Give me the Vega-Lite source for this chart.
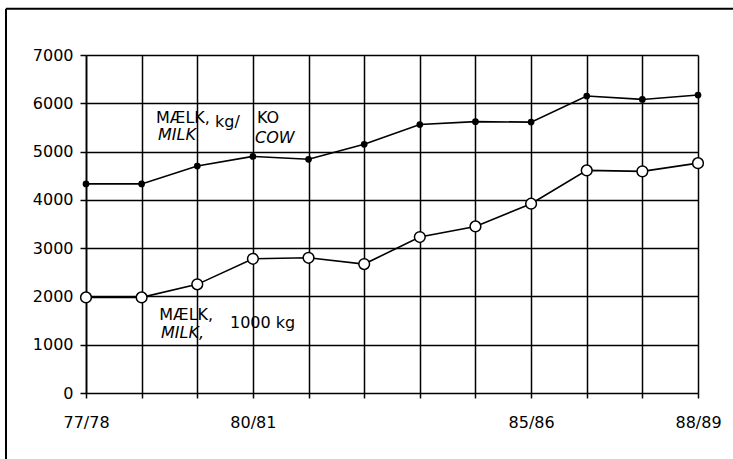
{
  "$schema": "https://vega.github.io/schema/vega-lite/v6.json",
  "width": 612,
  "height": 338,
  "autosize": "none",
  "padding": {"left": 86, "top": 55, "right": 35, "bottom": 66},
  "background": "white",
  "config": {
    "view": {"stroke": null},
    "font": "DejaVu Sans",
    "text": {"font": "DejaVu Sans", "fontSize": 16, "color": "black", "align": "left", "baseline": "alphabetic"}
  },
  "datasets": {
    "milk": [
      {"season": "77/78", "idx": 0, "series": "kg/ko", "value": 4330},
      {"season": "78/79", "idx": 1, "series": "kg/ko", "value": 4330},
      {"season": "79/80", "idx": 2, "series": "kg/ko", "value": 4700},
      {"season": "80/81", "idx": 3, "series": "kg/ko", "value": 4900},
      {"season": "81/82", "idx": 4, "series": "kg/ko", "value": 4840},
      {"season": "82/83", "idx": 5, "series": "kg/ko", "value": 5150},
      {"season": "83/84", "idx": 6, "series": "kg/ko", "value": 5560},
      {"season": "84/85", "idx": 7, "series": "kg/ko", "value": 5620},
      {"season": "85/86", "idx": 8, "series": "kg/ko", "value": 5610},
      {"season": "86/87", "idx": 9, "series": "kg/ko", "value": 6150},
      {"season": "87/88", "idx": 10, "series": "kg/ko", "value": 6080},
      {"season": "88/89", "idx": 11, "series": "kg/ko", "value": 6170},
      {"season": "77/78", "idx": 0, "series": "1000 kg", "value": 1980},
      {"season": "78/79", "idx": 1, "series": "1000 kg", "value": 1980},
      {"season": "79/80", "idx": 2, "series": "1000 kg", "value": 2250},
      {"season": "80/81", "idx": 3, "series": "1000 kg", "value": 2780},
      {"season": "81/82", "idx": 4, "series": "1000 kg", "value": 2800},
      {"season": "82/83", "idx": 5, "series": "1000 kg", "value": 2670},
      {"season": "83/84", "idx": 6, "series": "1000 kg", "value": 3230},
      {"season": "84/85", "idx": 7, "series": "1000 kg", "value": 3450},
      {"season": "85/86", "idx": 8, "series": "1000 kg", "value": 3920},
      {"season": "86/87", "idx": 9, "series": "1000 kg", "value": 4610},
      {"season": "87/88", "idx": 10, "series": "1000 kg", "value": 4590},
      {"season": "88/89", "idx": 11, "series": "1000 kg", "value": 4760}
    ],
    "one": [{}]
  },
  "layer": [
    {
      "data": {"name": "milk"},
      "mark": {"type": "line", "color": "black", "strokeWidth": 1.6},
      "encoding": {
        "x": {
          "field": "idx", "type": "quantitative",
          "scale": {"domain": [0, 11], "nice": false, "zero": false},
          "axis": {
            "title": null,
            "values": [0,1,2,3,4,5,6,7,8,9,10,11],
            "labelExpr": "['77/78','','','80/81','','','','','85/86','','','88/89'][datum.value]",
            "grid": true, "gridColor": "black", "gridWidth": 1.5, "gridOpacity": 1,
            "domain": false,
            "ticks": true, "tickColor": "black", "tickSize": 5, "tickWidth": 1.5,
            "labelFont": "DejaVu Sans", "labelFontSize": 16, "labelColor": "black",
            "labelPadding": 16, "labelFlush": false, "labelOverlap": false
          }
        },
        "y": {
          "field": "value", "type": "quantitative",
          "scale": {"domain": [0, 7000], "nice": false},
          "axis": {
            "title": null, "format": "d",
            "values": [0,1000,2000,3000,4000,5000,6000,7000],
            "grid": true, "gridColor": "black", "gridWidth": 1.5, "gridOpacity": 1,
            "domain": true, "domainColor": "black", "domainWidth": 1.6,
            "ticks": true, "tickColor": "black", "tickSize": 6, "tickWidth": 1.5,
            "labelFont": "DejaVu Sans", "labelFontSize": 16, "labelColor": "black",
            "labelPadding": 7
          }
        },
        "detail": {"field": "series"}
      }
    },
    {
      "data": {"name": "milk"},
      "transform": [{"filter": "datum.series == 'kg/ko'"}],
      "mark": {"type": "point", "shape": "circle", "filled": true, "color": "black", "size": 45, "opacity": 1},
      "encoding": {"x": {"field": "idx", "type": "quantitative"}, "y": {"field": "value", "type": "quantitative"}}
    },
    {
      "data": {"name": "milk"},
      "transform": [{"filter": "datum.series == '1000 kg'"}],
      "mark": {"type": "point", "shape": "circle", "filled": true, "fill": "white", "stroke": "black", "strokeWidth": 1.5, "size": 115, "opacity": 1},
      "encoding": {"x": {"field": "idx", "type": "quantitative"}, "y": {"field": "value", "type": "quantitative"}}
    },
    {
      "data": {"name": "one"},
      "mark": {"type": "rule", "color": "black", "strokeWidth": 2, "clip": false},
      "encoding": {"x": {"datum": -1.438}, "x2": {"datum": 11.7}, "y": {"datum": 7957}}
    },
    {
      "data": {"name": "one"},
      "mark": {"type": "rule", "color": "black", "strokeWidth": 2, "clip": false},
      "encoding": {"x": {"datum": -1.438}, "y": {"datum": 7957}, "y2": {"datum": -1400}}
    },
    {"data": {"name": "one"}, "mark": {"type": "text"}, "encoding": {"x": {"datum": 1.258}, "y": {"datum": 5590}, "text": {"value": "MÆLK,"}}},
    {"data": {"name": "one"}, "mark": {"type": "text", "fontStyle": "italic"}, "encoding": {"x": {"datum": 1.294}, "y": {"datum": 5244}, "text": {"value": "MILK"}}},
    {"data": {"name": "one"}, "mark": {"type": "text"}, "encoding": {"x": {"datum": 2.318}, "y": {"datum": 5513}, "text": {"value": "kg/"}}},
    {"data": {"name": "one"}, "mark": {"type": "text"}, "encoding": {"x": {"datum": 3.073}, "y": {"datum": 5590}, "text": {"value": "KO"}}},
    {"data": {"name": "one"}, "mark": {"type": "text", "fontStyle": "italic"}, "encoding": {"x": {"datum": 3.037}, "y": {"datum": 5176}, "text": {"value": "COW"}}},
    {"data": {"name": "one"}, "mark": {"type": "text"}, "encoding": {"x": {"datum": 1.317}, "y": {"datum": 1503}, "text": {"value": "MÆLK,"}}},
    {"data": {"name": "one"}, "mark": {"type": "text", "fontStyle": "italic"}, "encoding": {"x": {"datum": 1.348}, "y": {"datum": 1139}, "text": {"value": "MILK,"}}},
    {"data": {"name": "one"}, "mark": {"type": "text"}, "encoding": {"x": {"datum": 2.588}, "y": {"datum": 1346}, "text": {"value": "1000 kg"}}}
  ]
}
